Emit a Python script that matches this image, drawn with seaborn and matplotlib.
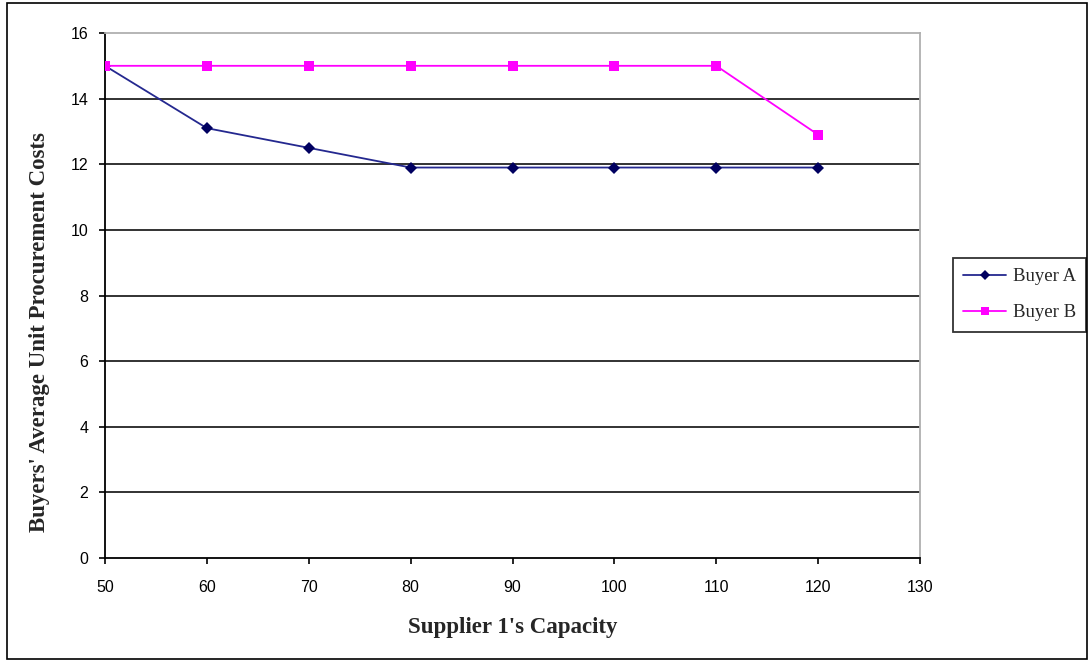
import matplotlib
matplotlib.use("Agg")
import matplotlib.pyplot as plt
import seaborn as sns
import pandas as pd

# Supplier 1 capacity levels and each buyer's average unit procurement cost
capacity = [50, 60, 70, 80, 90, 100, 110, 120]
buyer_a = [15.0, 13.1, 12.5, 11.9, 11.9, 11.9, 11.9, 11.9]
buyer_b = [15.0, 15.0, 15.0, 15.0, 15.0, 15.0, 15.0, 12.9]
series_names = ["Buyer A", "Buyer B"]
x_ticks = [50, 60, 70, 80, 90, 100, 110, 120, 130]
y_ticks = [0, 2, 4, 6, 8, 10, 12, 14, 16]

df = pd.DataFrame({
    "capacity": capacity * 2,
    "cost": buyer_a + buyer_b,
    "buyer": [series_names[0]] * len(capacity) + [series_names[1]] * len(capacity),
})

sns.set_style("white")
plt.rcParams["font.family"] = ["Liberation Sans", "DejaVu Sans"]

fig = plt.figure(figsize=(10.91, 6.61), dpi=100)
ax = fig.add_axes([105 / 1091, 1 - 558 / 661, 815 / 1091, 525 / 661])

# Outer frame around the whole figure
fig.patches.append(plt.Rectangle((7 / 1091, 2 / 661), 1080 / 1091, 656 / 661,
                                 transform=fig.transFigure, fill=False,
                                 edgecolor="black", linewidth=1.2))

navy_line = "#24288f"
navy_mark = "#000060"
magenta = "#ff00ff"

palette = {"Buyer A": navy_line, "Buyer B": magenta}
markers = {"Buyer A": "D", "Buyer B": "s"}
sns.lineplot(data=df, x="capacity", y="cost", hue="buyer", style="buyer",
             palette=palette, markers=markers, dashes=False, markersize=6.5,
             markeredgewidth=0, linewidth=1.3, ax=ax, legend=False, zorder=3)

# Darker navy markers for Buyer A
ax.lines[0].set_markerfacecolor(navy_mark)

ax.set_xlim(50, 130)
ax.set_ylim(0, 16)
ax.set_xticks(x_ticks)
ax.set_yticks(y_ticks)
ax.tick_params(axis="both", labelsize=11.5, colors="black", length=4, width=1.2,
               direction="out", left=True, bottom=True)
ax.tick_params(axis="y", pad=8)
ax.tick_params(axis="x", pad=12)

for y in y_ticks[1:-1]:
    ax.axhline(y, color="#222222", linewidth=1.3, zorder=1)

for side in ["left", "bottom"]:
    ax.spines[side].set_color("black")
    ax.spines[side].set_linewidth(1.3)
for side in ["top", "right"]:
    ax.spines[side].set_color("#b0b0b0")
    ax.spines[side].set_linewidth(1.3)

ax.set_xlabel("Supplier 1's Capacity", family=["Liberation Serif"],
              fontsize=16.5, fontweight="bold", labelpad=16)
ax.set_ylabel("Buyers' Average Unit Procurement Costs", family=["Liberation Serif"],
              fontsize=16.5, fontweight="bold")
ax.yaxis.set_label_coords(-55 / 815, (558 - 332) / 525)

handles = [
    plt.Line2D([], [], color=navy_line, marker="D", markersize=5.5,
               markerfacecolor=navy_mark, markeredgewidth=0, linewidth=1.3),
    plt.Line2D([], [], color=magenta, marker="s", markersize=5.5,
               markeredgewidth=0, linewidth=1.3),
]
leg = fig.legend(handles, series_names, loc="upper left",
                 bbox_to_anchor=(953 / 1091, 1 - 258 / 661),
                 prop={"family": "Liberation Serif", "size": 13.5},
                 frameon=True, fancybox=False, edgecolor="black",
                 handlelength=2.3, handletextpad=0.35, borderpad=0.55,
                 labelspacing=1.0, borderaxespad=0)
leg.get_frame().set_linewidth(1.3)

fig.savefig("out.png", dpi=100)
